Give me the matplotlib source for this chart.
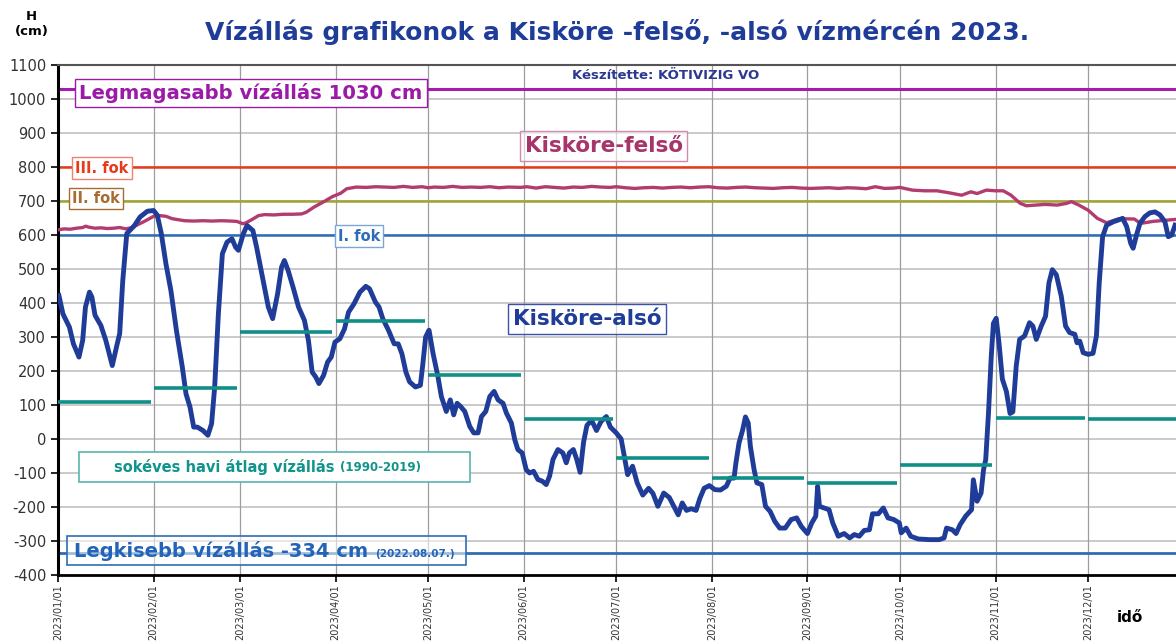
# -*- coding: utf-8 -*-
# Vízállás grafikon - Kisköre felső / alsó, 2023
import matplotlib
matplotlib.use('Agg')
import matplotlib.pyplot as plt
from matplotlib.patches import Rectangle

# hónapok kezdőnapja (nap az év elejétől) és a tengely feliratai
honap_nap = [0, 31, 59, 90, 120, 151, 181, 212, 243, 273, 304, 334, 365]
honapok = ['2023/01/01', '2023/02/01', '2023/03/01', '2023/04/01', '2023/05/01',
           '2023/06/01', '2023/07/01', '2023/08/01', '2023/09/01', '2023/10/01',
           '2023/11/01', '2023/12/01']

# sokéves havi átlag vízállás (1990-2019), cm
atlag = [110, 150, 315, 348, 187, 58, -55, -115, -130, -77, 63, 58]

# Kisköre-felső (nap, cm)
felso_nap = [0, 2, 4, 6, 8, 9, 10, 12, 14, 16, 18, 20, 22, 24, 28, 31, 33, 35, 37, 39,
             41, 44, 47, 50, 53, 56, 58, 60, 61, 63, 65, 67, 70, 73, 76, 79, 80.5, 83,
             86, 89, 91.7, 93.6, 96.7, 100, 103, 106, 109, 112, 115, 118, 120, 122,
             125, 128, 131, 134, 137, 140, 143, 146, 150, 152, 155, 158, 161, 164,
             167, 170, 173, 176, 179, 181, 184, 187, 190, 193, 196, 199, 202, 205,
             208, 211, 214, 217, 220, 223, 226, 229, 232, 235, 238, 241, 244, 247,
             250, 253, 256, 259, 262, 265, 268, 271, 273, 277, 281, 285, 289, 293,
             296, 298, 301, 304, 306.5, 309, 312, 314, 317, 320, 324, 327, 328.6,
             331, 334, 337, 340, 344, 349, 351, 355, 360, 362.5]
felso_h = [615, 618, 617, 620, 622, 626, 623, 620, 621, 619, 620, 622, 618, 622, 640,
           655, 657, 655, 648, 645, 642, 641, 642, 641, 642, 641, 640, 633, 636, 646,
           657, 660, 659, 661, 661, 662, 667, 682, 697, 713, 723, 736, 741, 740, 742,
           741, 740, 743, 740, 742, 739, 741, 740, 743, 740, 741, 740, 742, 739, 741,
           740, 742, 738, 742, 740, 738, 741, 740, 743, 741, 740, 742, 739, 737, 739,
           740, 738, 740, 741, 739, 741, 742, 739, 738, 740, 741, 739, 738, 737, 739,
           740, 738, 737, 738, 739, 737, 739, 738, 736, 742, 737, 738, 740, 732, 730,
           730, 724, 717, 727, 722, 732, 730, 730, 717, 693, 686, 688, 690, 688, 693,
           698, 688, 673, 649, 636, 648, 647, 634, 640, 644, 646]

# Kisköre-alsó (nap, cm)
also_nap = [0.3, 1.6, 3.7, 5, 6.8, 8, 8.9, 10.2, 11, 12, 13.9, 15.5, 17.6, 19.2, 20,
            21, 22.3, 24.8, 26.6, 29, 31, 32.2, 33.5, 35, 36.6, 38.4, 40.3, 41.5,
            42.8, 44, 45.2, 47, 48.6, 49.8, 50.8, 52, 53.3, 54.8, 56.4, 57.6, 58.5,
            60.1, 61.3, 63.2, 64.4, 66.3, 68.2, 69.6, 71.2, 72.5, 73.4, 74.6, 76.2,
            78, 79.9, 81.2, 82.4, 83.6, 84.6, 86.1, 87.4, 88.6, 89.8, 91.4, 92.9,
            94.2, 96, 97.9, 99.8, 101, 102.9, 104.1, 105.3, 107.2, 109, 110.3,
            111.5, 112.8, 114, 115.9, 117.5, 118.3, 119.2, 120.3, 121.6, 123.2,
            124.3, 125.9, 127.2, 128.3, 129.4, 130.5, 131.9, 133.5, 134.8, 136.2,
            137.3, 138.7, 140, 141.4, 142.7, 144.3, 145.4, 147, 148.1, 149.1, 150.5,
            151.8, 152.9, 154.2, 155.6, 157, 158.3, 159.4, 160.5, 162.1, 163.7,
            164.8, 165.8, 167.1, 168.2, 169.3, 170.4, 171.5, 173, 174.6, 176.1,
            177.8, 179.1, 181, 182.6, 183.8, 184.7, 186.3, 187.8, 189.6, 191.5,
            192.9, 194.5, 196.4, 198.2, 199.8, 201.1, 202.4, 203.8, 205.3, 206.9,
            208.1, 209.5, 211.2, 213, 214.8, 216.7, 217.9, 219.2, 219.8, 220.8, 222,
            222.9, 223.8, 224.5, 225.7, 226.6, 228.2, 229.4, 230.9, 232.4, 234,
            235.8, 237.7, 239.5, 241, 243, 244.4, 245.7, 246.3, 246.9, 248.4, 250,
            251.2, 253, 254.9, 256.7, 258.2, 259.8, 261.4, 263.1, 264.1, 266, 267.6,
            269.1, 271, 272.8, 273.4, 275, 276.5, 278.9, 282.6, 285.7, 287.3, 288.1,
            290, 291.2, 292.5, 294.3, 296.2, 296.8, 298, 299.3, 300.1, 300.8, 301.7,
            302.6, 303.3, 304.2, 305.1, 306.2, 307.5, 308.7, 309.6, 310.7, 311.8,
            313.4, 315, 316.1, 317.2, 318.8, 320.2, 321.3, 322.4, 323.7, 325.3,
            326.7, 328, 329.7, 330.4, 331.3, 332.4, 334, 335.6, 336.7, 337.6, 338.7,
            340, 342.2, 343.8, 345.2, 346.5, 347.8, 348.6, 349.7, 350.8, 352.4, 354,
            355.7, 357.3, 358.9, 360, 361.1, 362.2]
also_h = [422, 368, 329, 280, 241, 290, 388, 432, 417, 364, 334, 290, 216, 280, 310,
          466, 604, 628, 653, 670, 672, 658, 604, 515, 437, 319, 212, 133, 94, 35, 35,
          25, 11, 45, 153, 368, 545, 579, 589, 564, 555, 604, 628, 613, 564, 476, 388,
          354, 427, 506, 525, 496, 447, 388, 349, 290, 197, 182, 163, 187, 226, 241,
          285, 295, 324, 373, 398, 432, 449, 442, 403, 388, 354, 319, 280, 280, 251,
          197, 168, 153, 158, 221, 300, 320, 252, 183, 125, 81, 115, 71, 105, 96, 81,
          37, 18, 18, 66, 81, 125, 140, 115, 105, 76, 47, -2, -31, -41, -90, -100,
          -95, -119, -124, -134, -109, -60, -31, -41, -70, -41, -31, -60, -98, -10,
          40, 55, 25, 52, 66, 35, 18, 0, -61, -105, -80, -129, -165, -145, -160,
          -198, -159, -172, -200, -223, -188, -210, -205, -210, -175, -145, -137,
          -149, -150, -139, -115, -115, -71, -12, 27, 65, 47, -22, -90, -129, -134,
          -198, -213, -242, -262, -262, -237, -232, -257, -278, -247, -227, -139,
          -198, -203, -208, -247, -286, -278, -291, -281, -286, -269, -267, -220,
          -220, -203, -232, -237, -247, -276, -262, -286, -294, -296, -296, -291,
          -262, -267, -278, -252, -227, -208, -120, -183, -159, -90, -61, 76, 243,
          340, 355, 283, 176, 140, 75, 80, 215, 293, 303, 342, 332, 293, 332, 361,
          459, 498, 483, 420, 332, 313, 308, 283, 288, 254, 249, 252, 303, 459, 595,
          629, 639, 644, 649, 625, 576, 561, 600, 634, 654, 665, 668, 659, 639, 595,
          600, 629]

# jellemző vízállások
legmagasabb = 1030
legkisebb = -334
fokok = [800, 700, 600]   # III., II., I. fok

fig = plt.figure(figsize=(11.76, 6.41), dpi=100)
ax = fig.add_axes([58 / 1176, 1 - 575 / 641, 1 - 58 / 1176, 510 / 641])

# rács
for h in range(-300, 1100, 100):
    ax.axhline(h, color='#c6c6c6', lw=1.3, zorder=0.5)
for d in honap_nap[1:-1]:
    ax.axvline(d, color='#9d9d9d', lw=0.9, zorder=0.6)

# vízszintes jelzővonalak
ax.axhline(legmagasabb, color='#a21cae', lw=2.2, zorder=1.5)
ax.axhline(fokok[0], color='#e8391d', lw=1.8, zorder=1.5)
ax.axhline(fokok[1], color='#a3a332', lw=1.8, zorder=1.5)
ax.axhline(fokok[2], color='#2e6db5', lw=1.8, zorder=1.5)
ax.axhline(legkisebb, color='#2e6db5', lw=2.0, zorder=1.5)

# vízállás görbék
ax.plot(felso_nap, felso_h, color='#b23c70', lw=2.4, zorder=3, solid_joinstyle='round')
ax.plot(also_nap, also_h, color='#1f3c98', lw=3.5, zorder=4, solid_joinstyle='round')

# havi átlagok
for i, a in enumerate(atlag):
    ax.plot([honap_nap[i], honap_nap[i + 1] - 1], [a, a], color='#0f8f87', lw=2.6,
            solid_capstyle='butt', zorder=4.5)

# feliratok dobozban
def doboz(x, y, s, color, size, ec=None, fc='white', ha='left'):
    ax.text(x, y, s, color=color, fontsize=size, fontweight='bold', ha=ha, va='center',
            zorder=6, bbox=dict(boxstyle='square,pad=0.22', fc=fc, ec=ec or color, lw=1))

doboz(6.8, 1018, 'Legmagasabb vízállás 1030 cm', '#9c1aa8', 14.1)
doboz(5.5, 797, 'III. fok', '#e8391d', 10.5, ec='#f08070')
doboz(4.5, 708, 'II. fok', '#a86b32', 10.5)
doboz(97.6, 597, 'I. fok', '#2e6db5', 10.5, ec='#7da6d6', ha='center')
doboz(176.9, 862, 'Kisköre-felső', '#a8356a', 15.5, ec='#d68aab',
      fc=(1, 1, 1, 0.6), ha='center')
doboz(171.5, 353, 'Kisköre-alsó', '#1f3c98', 15.5, ec='#3a52a8',
      fc=(1, 1, 1, 0.6), ha='center')

# sokéves átlag doboz
ax.add_patch(Rectangle((6.8, -126), 126.8, 88, fc='white', ec='#58b5ad', lw=1.2, zorder=5))
t1 = ax.text(18.2, -82, 'sokéves havi átlag vízállás', color='#10948b', fontsize=10.5,
             fontweight='bold', va='center', zorder=6)
ax.annotate('(1990-2019)', xy=(1, 0.45), xycoords=t1, xytext=(4, 0),
            textcoords='offset points', color='#10948b', fontsize=8.5,
            fontweight='bold', va='center', zorder=6)

# legkisebb vízállás doboz
ax.add_patch(Rectangle((2.9, -371), 129.4, 86, fc=(1, 1, 1, 0.55), ec='#2e6db5',
                       lw=1.2, zorder=5))
t2 = ax.text(5.2, -328, 'Legkisebb vízállás -334 cm', color='#2364b8', fontsize=14,
             fontweight='bold', va='center', zorder=6)
ax.annotate('(2022.08.07.)', xy=(1, 0.35), xycoords=t2, xytext=(5, 0),
            textcoords='offset points', color='#2364b8', fontsize=7.5,
            fontweight='bold', va='center', zorder=6)

ax.text(197, 1070, 'Készítette: KÖTIVIZIG VO', color='#2b3990', fontsize=9.5,
        fontweight='bold', ha='center', va='center', zorder=6)

# tengelyek
ax.set_xlim(0, 362.5)
ax.set_ylim(-400, 1100)
ax.set_yticks(range(-400, 1101, 100))
ax.set_yticklabels([str(v) for v in range(-400, 1101, 100)])
ax.set_xticks(honap_nap[:-1])
ax.set_xticklabels(honapok, rotation=90)
ax.tick_params(axis='y', length=5, width=1.2, labelsize=10.5, labelcolor='#333333')
ax.tick_params(axis='x', length=5, width=1.2, labelsize=7, pad=1.5,
               labelcolor='#333333')
ax.spines['right'].set_visible(False)
ax.spines['top'].set_color('#555555')
ax.spines['top'].set_linewidth(1.5)
ax.spines['left'].set_linewidth(2.2)
ax.spines['bottom'].set_linewidth(2.0)

fig.text(0.525, 0.95, 'Vízállás grafikonok a Kisköre -felső, -alsó vízmércén 2023.',
         color='#1f3c98', fontsize=18, fontweight='bold', ha='center', va='center')
fig.text(0.027, 0.962, 'H\n(cm)', fontsize=9.5, fontweight='bold', ha='center',
         va='center', linespacing=1.2)
fig.text(0.961, 0.036, 'idő', fontsize=11, fontweight='bold', ha='center', va='center')

fig.savefig('out.png', dpi=100)
